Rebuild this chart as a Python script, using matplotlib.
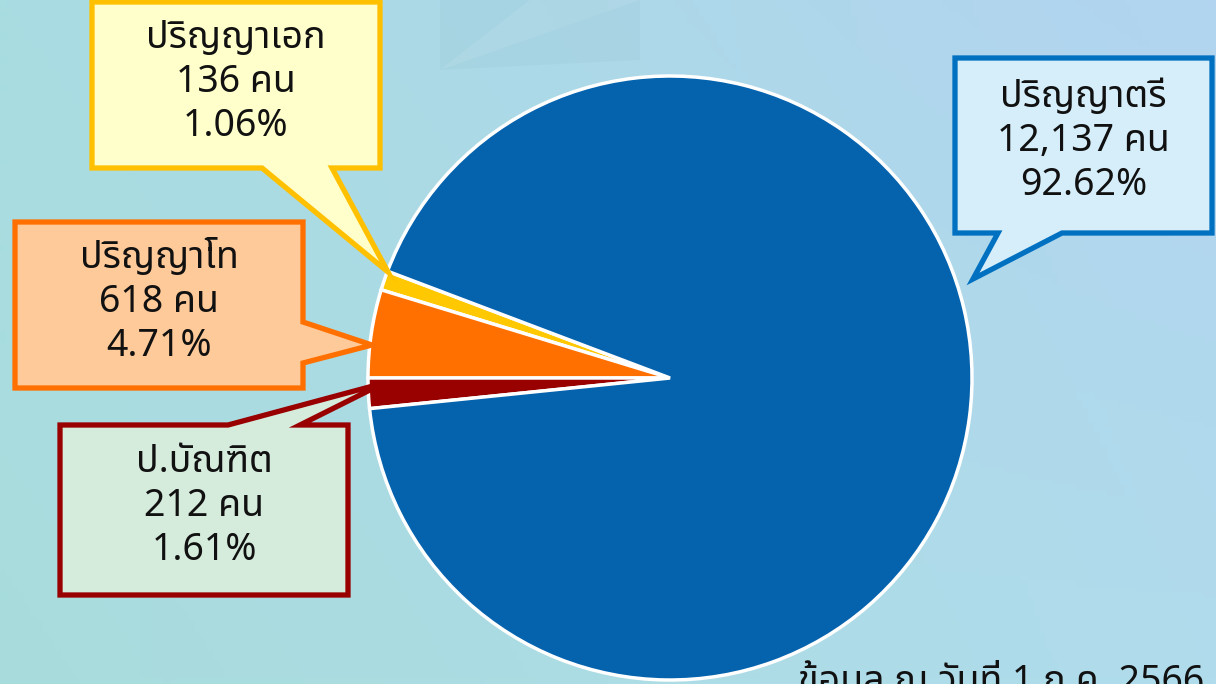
import numpy as np
import matplotlib
matplotlib.use('Agg')
import matplotlib.pyplot as plt
from matplotlib import font_manager
from matplotlib.ft2font import FT2Font
from matplotlib.patches import Polygon

# data
labels = ['ปริญญาเอก', 'ปริญญาโท', 'ป.บัณฑิต', 'ปริญญาตรี']
counts = [136, 618, 212, 12137]
count_text = ['136', '618', '212', '12,137']
percent_text = ['1.06%', '4.71%', '1.61%', '92.62%']
slice_colors = ['#FFC800', '#FF7000', '#990000', '#0563AE']
box_fill = ['#FFFFCC', '#FFCA99', '#D5EBDC', '#D5EEFA']
box_edge = ['#FFC000', '#FF7000', '#990000', '#0070C0']
note = 'ข้อมูล ณ วันที่ 1 ก.ค. 2566'

W, H = 1216, 684

# find a font that has Thai glyphs
thai_fonts = []
for f in font_manager.fontManager.ttflist:
    try:
        if 0x0E1B in FT2Font(f.fname).get_charmap():
            thai_fonts.append(f.name)
    except Exception:
        pass
thai_fonts = sorted(set(thai_fonts))
pref = [n for n in thai_fonts if n == 'Noto Sans Thai'] + \
       [n for n in thai_fonts if 'Noto Sans Thai' in n and 'Looped' not in n] + thai_fonts
families = ([pref[0]] if pref else []) + ['DejaVu Sans']

fig = plt.figure(figsize=(W / 100, H / 100), dpi=100)
ax = fig.add_axes([0, 0, 1, 1])

# background gradient
xx, yy = np.meshgrid(np.linspace(0, 1, 200), np.linspace(0, 1, 120))
tl = np.array([168, 221, 226]) / 255
tr = np.array([178, 212, 240]) / 255
bl = np.array([168, 220, 220]) / 255
br = np.array([176, 220, 236]) / 255
bg = (tl * ((1 - xx) * (1 - yy))[..., None] + tr * (xx * (1 - yy))[..., None]
      + bl * ((1 - xx) * yy)[..., None] + br * (xx * yy)[..., None])
ax.imshow(bg, extent=[0, W, 0, H], origin='upper', zorder=0, aspect='auto')

# faint decoration at the top
ax.add_patch(Polygon([(440, H), (640, H), (640, H - 60), (440, H - 70)],
                     closed=True, facecolor='#9CC8D6', alpha=0.25, lw=0, zorder=1))
ax.add_patch(Polygon([(440, H - 70), (530, H), (640, H)], closed=True,
                     facecolor='white', alpha=0.08, lw=0, zorder=1))

# pie, in pixel coords (y up)
cx, cy, r = 670, H - 378, 302
start = 180 - 360 * (counts[0] + counts[1]) / sum(counts)
ax.pie(counts, colors=slice_colors, startangle=start, counterclock=True,
       center=(cx, cy), radius=r, frame=True,
       wedgeprops=dict(edgecolor='white', linewidth=2.5))


def callout(box, side, b0, b1, tip, fc, ec):
    x0, y0, x1, y1 = box
    if side == 'bottom':
        pts = [(x0, y0), (x1, y0), (x1, y1), (b1, y1), tip, (b0, y1), (x0, y1)]
    elif side == 'right':
        pts = [(x0, y0), (x1, y0), (x1, b0), tip, (x1, b1), (x1, y1), (x0, y1)]
    else:
        pts = [(x0, y0), (b0, y0), tip, (b1, y0), (x1, y0), (x1, y1), (x0, y1)]
    pts = [(px, H - py) for px, py in pts]
    ax.add_patch(Polygon(pts, closed=True, facecolor=fc, edgecolor=ec,
                         linewidth=3.8, joinstyle='miter', zorder=5))


boxes = [(92, 2, 380, 168), (15, 222, 303, 388), (60, 425, 348, 595), (955, 58, 1212, 233)]
sides = ['bottom', 'right', 'top', 'bottom']
bases = [(262, 332), (322, 363), (228, 300), (998, 1062)]
tips = [(388, 272), (372, 345), (384, 383), (973, 279)]
text_y = [82, 302, 506, 141]

for i in range(4):
    callout(boxes[i], sides[i], bases[i][0], bases[i][1], tips[i], box_fill[i], box_edge[i])
    x0, y0, x1, y1 = boxes[i]
    txt = labels[i] + '\n' + count_text[i] + ' คน\n' + percent_text[i]
    ax.text((x0 + x1) / 2, H - text_y[i], txt, ha='center', va='center',
            fontsize=27, linespacing=1.22, family=families, color='#111111', zorder=6)

# the date note runs off the bottom edge, as in the original
ax.text(798, H - 660, note, ha='left', va='top', fontsize=27, family=families,
        color='#111111', zorder=6)

ax.set_xlim(0, W)
ax.set_ylim(0, H)
ax.set_aspect('auto')
ax.axis('off')

fig.savefig('out.png', dpi=100)
